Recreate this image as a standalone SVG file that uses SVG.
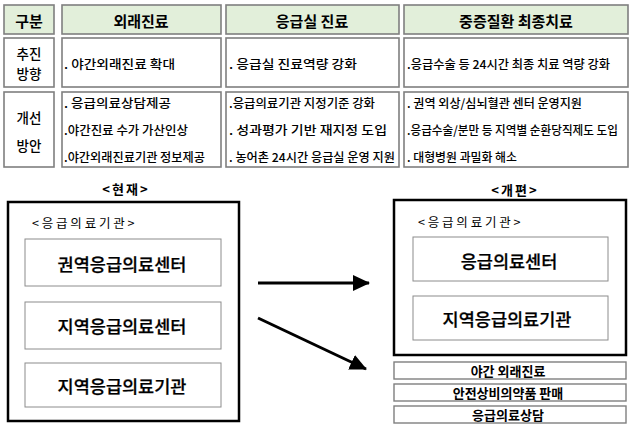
<svg xmlns="http://www.w3.org/2000/svg" width="633" height="432" viewBox="0 0 633 432">
<defs>
<style>
.cell{fill:#fff;stroke:#7f7f7f;stroke-width:1.6}
.hdr{fill:#e2efda;stroke:#7f7f7f;stroke-width:1.6}
.t{font-family:"Noto Sans CJK KR","Noto Sans",sans-serif;fill:#000;dominant-baseline:central}
.h{font-size:15px;font-weight:bold;text-anchor:middle}
.rl{font-size:13.5px;font-weight:500;text-anchor:middle}
.b{font-size:12px;font-weight:500}
.outer{fill:#fff;stroke:#000;stroke-width:2.5}
.inner{fill:#fff;stroke:#8c8c8c;stroke-width:1}
.small{fill:#fff;stroke:#7f7f7f;stroke-width:1.4}
.big{font-size:17.5px;font-weight:500;text-anchor:middle;stroke:#000;stroke-width:0.25}
.lbl{font-size:12.5px;letter-spacing:2.8px}
.sm{font-size:13px;font-weight:bold;text-anchor:middle}
.ttl{font-size:13px;font-weight:bold;text-anchor:middle;letter-spacing:2px}
.conn{stroke:#000;stroke-width:3;fill:none}
</style>
<marker id="ah" markerUnits="userSpaceOnUse" markerWidth="18" markerHeight="18" refX="16" refY="8" orient="auto" viewBox="0 0 18 16">
<path d="M0,0 L17,8 L0,16 Z" fill="#000"/>
</marker>
</defs>

<g id="table">
<g id="h-gubun"><rect class="hdr" x="4" y="5" width="50" height="29"/><text class="t h" x="29" y="20">구분</text></g>
<g id="h-out"><rect class="hdr" x="62" y="5" width="159" height="29"/><text class="t h" x="141" y="20">외래진료</text></g>
<g id="h-er"><rect class="hdr" x="226" y="5" width="173" height="29"/><text class="t h" x="312" y="20">응급실 진료</text></g>
<g id="h-sev"><rect class="hdr" x="404" y="5" width="224" height="29"/><text class="t h" x="516" y="20">중증질환 최종치료</text></g>

<g id="r1-label"><rect class="cell" x="4" y="38" width="50" height="49"/><text class="t rl" x="29" y="53">추진</text><text class="t rl" x="29" y="73">방향</text></g>
<g id="r1-out"><rect class="cell" x="62" y="38" width="159" height="49"/><text class="t b" x="64" y="63" textLength="111" lengthAdjust="spacingAndGlyphs">. 야간외래진료 확대</text></g>
<g id="r1-er"><rect class="cell" x="226" y="38" width="173" height="49"/><text class="t b" x="229" y="63" textLength="128" lengthAdjust="spacingAndGlyphs">. 응급실 진료역량 강화</text></g>
<g id="r1-sev"><rect class="cell" x="404" y="38" width="224" height="49"/><text class="t b" x="407" y="63" textLength="203" lengthAdjust="spacingAndGlyphs">.응급수술 등 24시간 최종 치료 역량 강화</text></g>

<g id="r2-label"><rect class="cell" x="4" y="92" width="50" height="75"/><text class="t rl" x="29" y="117">개선</text><text class="t rl" x="29" y="145">방안</text></g>
<g id="r2-out"><rect class="cell" x="62" y="92" width="159" height="75"/>
<text class="t b" x="64" y="102" textLength="107" lengthAdjust="spacingAndGlyphs">. 응급의료상담제공</text>
<text class="t b" x="64" y="129" textLength="124" lengthAdjust="spacingAndGlyphs">.야간진료 수가 가산인상</text>
<text class="t b" x="64" y="156" textLength="141" lengthAdjust="spacingAndGlyphs">.야간외래진료기관 정보제공</text></g>
<g id="r2-er"><rect class="cell" x="226" y="92" width="173" height="75"/>
<text class="t b" x="229" y="102" textLength="146" lengthAdjust="spacingAndGlyphs">.응급의료기관 지정기준 강화</text>
<text class="t b" x="229" y="129" textLength="158" lengthAdjust="spacingAndGlyphs">. 성과평가 기반 재지정 도입</text>
<text class="t b" x="229" y="156" textLength="166" lengthAdjust="spacingAndGlyphs">. 농어촌 24시간 응급실 운영 지원</text></g>
<g id="r2-sev"><rect class="cell" x="404" y="92" width="224" height="75"/>
<text class="t b" x="407" y="102" textLength="175" lengthAdjust="spacingAndGlyphs">. 권역 외상/심뇌혈관 센터 운영지원</text>
<text class="t b" x="407" y="129" textLength="211" lengthAdjust="spacingAndGlyphs">.응급수술/분만 등 지역별 순환당직제도 도입</text>
<text class="t b" x="407" y="156" textLength="110" lengthAdjust="spacingAndGlyphs">. 대형병원 과밀화 해소</text></g>
</g>

<g id="current">
<text class="t ttl" x="126" y="188">&lt;현재&gt;</text>
<rect class="outer" x="8" y="202" width="231" height="219"/>
<text class="t lbl" x="32" y="222">&lt;응급의료기관&gt;</text>
</g>
<g id="cur-regional"><rect class="inner" x="25" y="239" width="196" height="47"/><text class="t big" x="122" y="263">권역응급의료센터</text></g>
<g id="cur-local-center"><rect class="inner" x="25" y="302" width="196" height="47"/><text class="t big" x="122" y="325">지역응급의료센터</text></g>
<g id="cur-local-inst"><rect class="inner" x="25" y="363" width="196" height="44"/><text class="t big" x="122" y="385">지역응급의료기관</text></g>

<g id="reform">
<text class="t ttl" x="515" y="189">&lt;개편&gt;</text>
<rect class="outer" x="394" y="200" width="232" height="155"/>
<text class="t lbl" x="418" y="221">&lt;응급의료기관&gt;</text>
</g>
<g id="new-center"><rect class="inner" x="413" y="237" width="195" height="44"/><text class="t big" x="509" y="260">응급의료센터</text></g>
<g id="new-local-inst"><rect class="inner" x="413" y="296" width="195" height="44"/><text class="t big" x="507" y="318">지역응급의료기관</text></g>

<g id="night"><rect class="small" x="394" y="362" width="232" height="17"/><text class="t sm" x="508" y="370.5">야간 외래진료</text></g>
<g id="otc"><rect class="small" x="394" y="384" width="232" height="17"/><text class="t sm" x="508" y="392.5">안전상비의약품 판매</text></g>
<g id="consult"><rect class="small" x="394" y="406" width="232" height="17"/><text class="t sm" x="508" y="414.5">응급의료상담</text></g>

<g id="connectors">
<line class="conn" x1="258" y1="283" x2="369" y2="283" marker-end="url(#ah)"/>
<line class="conn" x1="258" y1="318" x2="366" y2="369" marker-end="url(#ah)"/>
</g>
</svg>
